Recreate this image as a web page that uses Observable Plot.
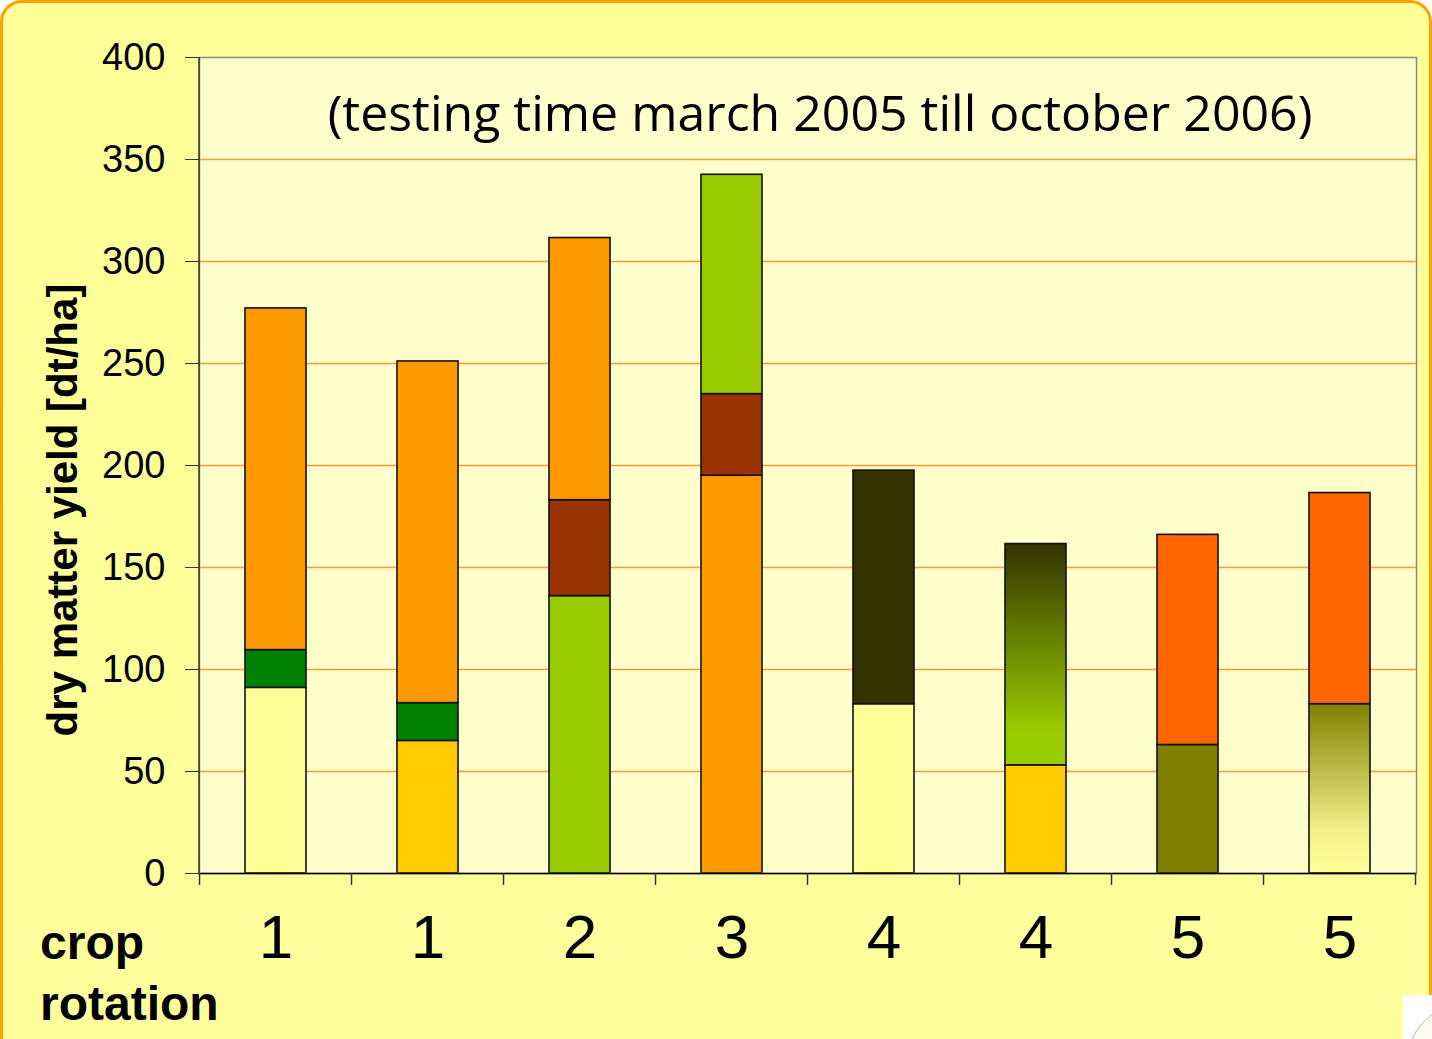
<!DOCTYPE html>
<html>
<head>
<meta charset="utf-8">
<script src="https://cdn.jsdelivr.net/npm/d3@7"></script>
<script src="https://cdn.jsdelivr.net/npm/@observablehq/plot@0.6"></script>
<style>
  html, body { margin: 0; padding: 0; background: #ffffff; overflow: hidden; }
  #frame {
    position: absolute; left: 0; top: 0; width: 1426px; height: 1100px;
    border: 3px solid #FFA200; border-radius: 22px;
    background: linear-gradient(#FFFF99, #FFFF9C);
  }
  #chart { position: absolute; left: 0; top: 0; }
  .lbl { position: absolute; font-family: "Liberation Sans", Arial, sans-serif; font-weight: bold; color: #000; }
  #ylabel { left: 63px; top: 510px; font-size: 42px; white-space: nowrap;
    transform: translate(-50%, -50%) rotate(-90deg); }
  #xlabel { left: 40px; top: 912px; font-size: 48px; line-height: 61px; }
  #corner { position: absolute; left: 1403px; top: 995px; width: 40px; height: 60px; background: #fff; overflow: hidden; }
  #corner div { position: absolute; left: 3px; top: 8px; width: 120px; height: 120px; border-radius: 50%;
    border: 1px solid #bbb; background: #fcfbf0; }
</style>
</head>
<body>
<div id="frame"></div>
<div id="chart"></div>
<div class="lbl" id="ylabel">dry matter yield [dt/ha]</div>
<div class="lbl" id="xlabel">crop<br>rotation</div>
<div id="corner"><div></div></div>
<script>
// ---- data ----
const barKeys = ["b1", "b2", "b3", "b4", "b5", "b6", "b7", "b8"];
const rotationLabels = ["1", "1", "2", "3", "4", "4", "5", "5"];
// segments per bar, bottom to top
const segmentValues = [
  [91, 18.5, 167.5],
  [65, 18.5, 167.5],
  [136, 47, 128.5],
  [195, 40, 107.5],
  [83, 114.5],
  [53, 108.5],
  [63, 103],
  [83, 103.5]
];
const segmentColors = [
  ["#FFFF99", "#008000", "#FF9900"],
  ["#FFCC00", "#008000", "#FF9900"],
  ["#99CC00", "#993300", "#FF9900"],
  ["#FF9900", "#993300", "#99CC00"],
  ["#FFFF99", "#333300"],
  ["#FFCC00", "url(#gradDarkGreen)"],
  ["#808000", "#FF6600"],
  ["url(#gradOlive)", "#FF6600"]
];
const yTicks = [0, 50, 100, 150, 200, 250, 300, 350, 400];
const gridValues = [50, 100, 150, 200, 250, 300, 350];
const title = "(testing time march 2005 till october 2006)";

const rows = [];
barKeys.forEach((k, i) => {
  segmentValues[i].forEach((v, j) => rows.push({bar: k, value: v, color: segmentColors[i][j]}));
});
const labelOf = new Map(barKeys.map((k, i) => [k, rotationLabels[i]]));

const chart = Plot.plot({
  width: 1432,
  height: 1039,
  marginLeft: 199,
  marginRight: 16,
  marginTop: 57,
  marginBottom: 166,
  style: {background: "transparent", overflow: "visible"},
  x: {type: "band", domain: barKeys, paddingInner: 0.6, paddingOuter: 0.3, label: null},
  y: {domain: [0, 400], label: null},
  color: {type: "identity"},
  marks: [
    Plot.frame({fill: "#FFFFCC", stroke: "none"}),
    Plot.ruleY(gridValues, {stroke: "#FF9933", strokeWidth: 1.3}),
    Plot.barY(rows, {x: "bar", y: "value", fill: "color", stroke: "#111", strokeWidth: 1.6}),
    Plot.frame({stroke: "#888", strokeWidth: 1.5}),
    Plot.axisY({ticks: yTicks, tickSize: 14, tickPadding: 20, fontSize: 38,
      fontFamily: "Liberation Sans, Arial, sans-serif", label: null, stroke: "#333"}),
    Plot.axisX({tickSize: 0, tickPadding: 40, fontSize: 62,
      fontFamily: "Liberation Sans, Arial, sans-serif", label: null,
      tickFormat: (d) => labelOf.get(d)}),
    Plot.ruleY([0], {stroke: "#000", strokeWidth: 1.5}),
    Plot.text([title], {frameAnchor: "top", dy: 38, dx: 12, fontSize: 50,
      fontFamily: "'Comic Sans MS', 'Open Sans', sans-serif", fill: "#000"})
  ]
});

// gradients
const svg = d3.select(chart);
const defs = svg.insert("defs", ":first-child");
const g1 = defs.append("linearGradient").attr("id", "gradDarkGreen").attr("x1", 0).attr("y1", 0).attr("x2", 0).attr("y2", 1);
g1.append("stop").attr("offset", "0").attr("stop-color", "#333300");
g1.append("stop").attr("offset", "0.85").attr("stop-color", "#99CC00");
g1.append("stop").attr("offset", "1").attr("stop-color", "#99CC00");
const g2 = defs.append("linearGradient").attr("id", "gradOlive").attr("x1", 0).attr("y1", 0).attr("x2", 0).attr("y2", 1);
g2.append("stop").attr("offset", "0").attr("stop-color", "#808000");
g2.append("stop").attr("offset", "0.75").attr("stop-color", "#F3F08A");
g2.append("stop").attr("offset", "1").attr("stop-color", "#FFFF99");

// left axis line and boundary ticks computed from Plot's scales
const sx = chart.scale("x");
const sy = chart.scale("y");
const y0 = sy.apply(0), yTop = sy.apply(400);
svg.append("line").attr("x1", sx.range[0]).attr("x2", sx.range[0]).attr("y1", yTop).attr("y2", y0)
  .attr("stroke", "#333").attr("stroke-width", 1.5);
const gap = (sx.step - sx.bandwidth) / 2;
const bounds = barKeys.map((k) => sx.apply(k) - gap);
bounds.push(sx.apply(barKeys[barKeys.length - 1]) + sx.bandwidth + gap);
bounds.forEach((b) => {
  svg.append("line").attr("x1", b).attr("x2", b).attr("y1", y0).attr("y2", y0 + 12)
    .attr("stroke", "#333").attr("stroke-width", 1.5);
});

document.getElementById("chart").appendChild(chart);
</script>
</body>
</html>
